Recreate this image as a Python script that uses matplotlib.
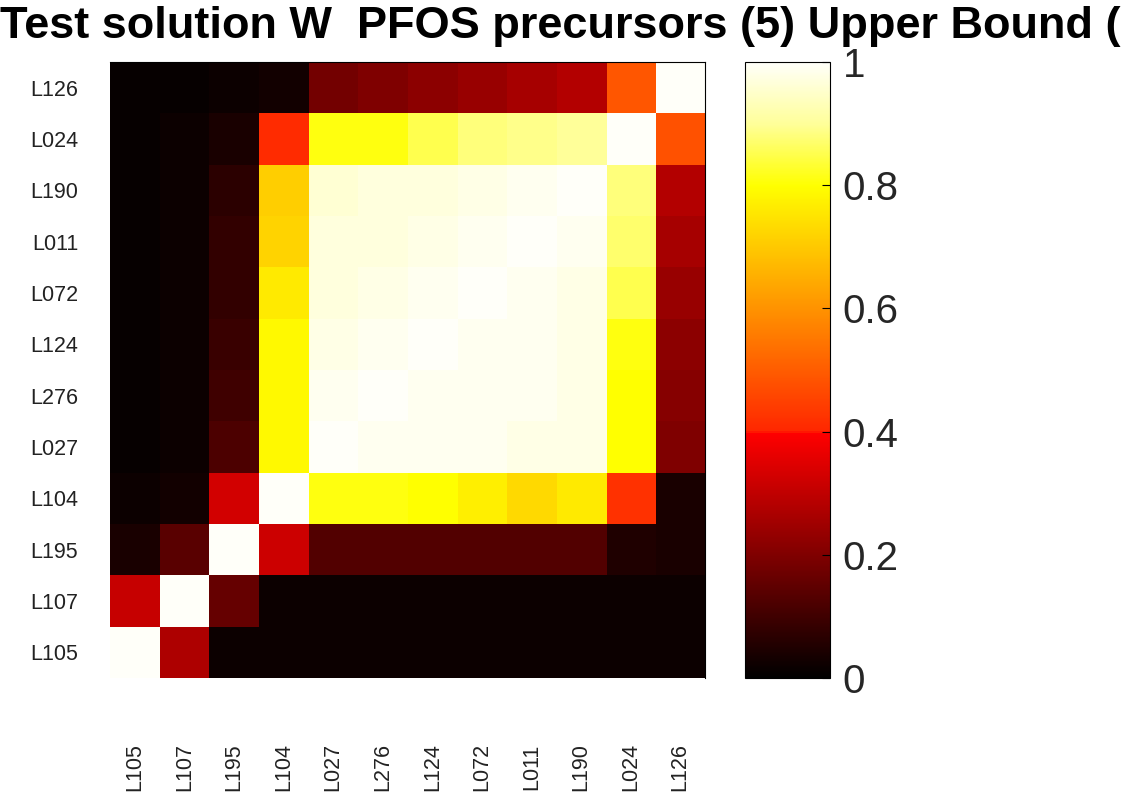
import numpy as np
import matplotlib
matplotlib.use("Agg")
from matplotlib import pyplot as plt
from matplotlib.colors import LinearSegmentedColormap

plt.rcParams['font.family'] = ['Liberation Sans', 'DejaVu Sans']

# sample labels, bottom->top of the rows == left->right of the columns
labels = ["L105", "L107", "L195", "L104", "L027", "L276",
          "L124", "L072", "L011", "L190", "L024", "L126"]

# similarity values, one list per row (row order = labels)
row_L105 = [1.00, 0.27, 0.02, 0.02, 0.02, 0.02, 0.02, 0.02, 0.02, 0.02, 0.02, 0.02]
row_L107 = [0.31, 1.00, 0.16, 0.02, 0.02, 0.02, 0.02, 0.02, 0.02, 0.02, 0.02, 0.02]
row_L195 = [0.04, 0.14, 1.00, 0.32, 0.13, 0.13, 0.13, 0.13, 0.13, 0.13, 0.05, 0.04]
row_L104 = [0.02, 0.03, 0.33, 1.00, 0.81, 0.81, 0.80, 0.77, 0.73, 0.76, 0.42, 0.04]
row_L027 = [0.01, 0.02, 0.12, 0.79, 1.00, 0.99, 0.99, 0.99, 0.98, 0.98, 0.80, 0.20]
row_L276 = [0.01, 0.02, 0.10, 0.79, 0.99, 1.00, 0.99, 0.99, 0.99, 0.98, 0.80, 0.21]
row_L124 = [0.01, 0.02, 0.09, 0.79, 0.98, 0.99, 1.00, 0.99, 0.99, 0.98, 0.81, 0.22]
row_L072 = [0.01, 0.02, 0.08, 0.76, 0.97, 0.98, 0.99, 1.00, 0.99, 0.98, 0.85, 0.24]
row_L011 = [0.01, 0.02, 0.08, 0.72, 0.97, 0.97, 0.98, 0.99, 1.00, 0.99, 0.87, 0.26]
row_L190 = [0.01, 0.02, 0.07, 0.71, 0.96, 0.97, 0.97, 0.98, 0.99, 1.00, 0.88, 0.28]
row_L024 = [0.01, 0.02, 0.04, 0.41, 0.81, 0.81, 0.85, 0.88, 0.89, 0.90, 1.00, 0.48]
row_L126 = [0.01, 0.01, 0.02, 0.03, 0.18, 0.20, 0.22, 0.24, 0.26, 0.28, 0.49, 1.00]

cbar_ticks = [0, 0.2, 0.4, 0.6, 0.8, 1]
cbar_ticklabels = ["0", "0.2", "0.4", "0.6", "0.8", "1"]

# the title runs off the right edge in the source; only this much is visible
title = "Test solution W  PFOS precursors (5) Upper Bound ("

W = np.array([row_L105, row_L107, row_L195, row_L104, row_L027, row_L276,
              row_L124, row_L072, row_L011, row_L190, row_L024, row_L126])

# hot-like map with the sharp step seen at 0.4
cmap = LinearSegmentedColormap.from_list("hotstep", [
    (0.0, (0, 0, 0)),
    (0.398, (1, 0, 0)),
    (0.40, (1, 0.15, 0)),
    (0.80, (1, 1, 0)),
    (0.90, (1, 1, 0.6)),
    (1.0, (1, 1, 0.98)),
], N=512)

W_px, H_px = 1137, 802
fig = plt.figure(figsize=(W_px / 100, H_px / 100), dpi=100)

ax = fig.add_axes([110 / W_px, 1 - 678 / H_px, 595 / W_px, 616 / H_px])
im = ax.imshow(W, cmap=cmap, vmin=0, vmax=1, origin="lower",
               aspect="auto", interpolation="nearest")
ax.set_xticks(np.arange(len(labels)))
ax.set_yticks(np.arange(len(labels)))
ax.set_xticklabels(labels, rotation=90, fontsize=15.5, color="#222222")
ax.set_yticklabels(labels, fontsize=15.5, color="#222222")
ax.tick_params(axis="x", length=0, pad=47)
ax.tick_params(axis="y", length=0, pad=23)
for s in ["left", "bottom"]:
    ax.spines[s].set_visible(False)
for s in ["top", "right"]:
    ax.spines[s].set_linewidth(0.8)

cax = fig.add_axes([745 / W_px, 1 - 678 / H_px, 85 / W_px, 616 / H_px])
cb = fig.colorbar(im, cax=cax)
cb.set_ticks(cbar_ticks)
cb.set_ticklabels(cbar_ticklabels)
cb.outline.set_linewidth(0.8)
cax.tick_params(direction="in", length=6, width=0.8, labelsize=29,
                labelcolor="#262626", pad=9)

fig.text(0.0, 0.993, title, fontsize=32.5, fontweight="bold",
         ha="left", va="top")

fig.savefig("out.png", dpi=100)
